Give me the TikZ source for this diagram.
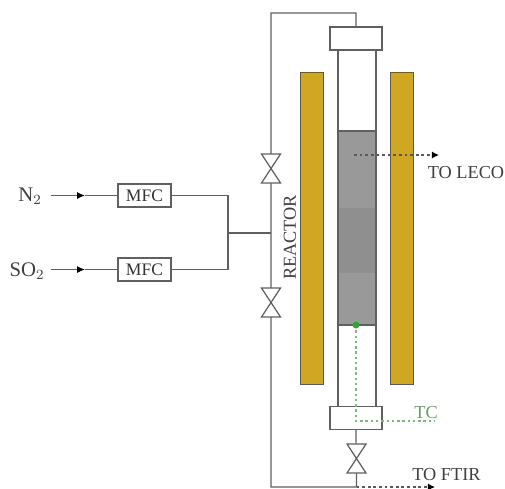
\documentclass[tikz,border=0pt]{standalone}
\usepackage{fontspec}
\setmainfont{Liberation Serif}
\usetikzlibrary{calc}
\usetikzlibrary{positioning}
\usetikzlibrary{arrows.meta}

\definecolor{heater}{HTML}{CFA722}
\definecolor{pipe}{HTML}{606060}
\definecolor{tcgreen}{HTML}{7DB87D}

\tikzset{
    pipeline/.style={draw=pipe, line width=0.7pt},
    mfcbox/.style={draw=pipe, line width=0.7pt, minimum width=53*0.2mm, minimum height=23*0.2mm, inner sep=0pt, font=\fontsize{10}{10}\selectfont, text=black!80},
    capbox/.style={draw=pipe, fill=white, line width=0.8pt, minimum width=52*0.2mm, minimum height=23*0.2mm, inner sep=0pt},
    heaterbar/.style={draw=black!65, fill=heater, line width=0.5pt},
    label/.style={font=\fontsize{10.4}{10.4}\selectfont, text=black!75},
    gaslabel/.style={font=\fontsize{11.8}{11.8}\selectfont, text=black!75},
    dotline/.style={draw=black!65, line width=0.7pt, dash pattern=on 1.6pt off 1.6pt},
    tcline/.style={draw=tcgreen, line width=0.6pt, dash pattern=on 1.4pt off 1.6pt},
    valve/.style={draw=pipe, fill=white, line width=0.7pt}
}

\newcommand{\valvev}[1]{
    \draw [valve] ($(#1)+(-9.5,-14.5)$) -- ($(#1)+(9.5,-14.5)$) -- ($(#1)+(-9.5,14.5)$) -- ($(#1)+(9.5,14.5)$) -- cycle;
}

\begin{document}
\begin{tikzpicture}[x=0.2mm, y=-0.2mm]
    \useasboundingbox (0,0) rectangle (505,488);

    % Control points
    \coordinate (topleft) at (271,13);
    \coordinate (botleft) at (271,487);
    \coordinate (botright) at (356.5,487);
    \coordinate (junction) at (271,233);
    \coordinate (split) at (228,233);
    \coordinate (valvea) at (271,168.5);
    \coordinate (valveb) at (271,302.5);
    \coordinate (valvec) at (356.5,458.5);

    % Heaters
    \draw [heaterbar] (300,72) rectangle (323,384);
    \draw [heaterbar] (390,72) rectangle (413,384);

    % Bed
    \fill [black!40] (338,131) rectangle (375.5,208);
    \fill [black!44] (338,208) rectangle (375.5,273);
    \fill [black!40] (338,273) rectangle (375.5,325);
    \draw [pipe, line width=0.9pt] (338,131) -- (375.5,131);
    \draw [pipe, line width=0.7pt] (338,325) -- (375.5,325);

    % Tube and caps
    \draw [pipeline, line width=0.8pt] (338,50) -- (338,407);
    \draw [pipeline, line width=0.8pt] (376,50) -- (376,407);
    \node [capbox] (captop) at (356,38.5) {};
    \node [capbox] (capbot) at (356,418) {};

    % Flow lines
    \node [mfcbox] (mfca) at (144.5,195.5) {MFC};
    \node [mfcbox] (mfcb) at (144.5,269.5) {MFC};
    \node [gaslabel] (ntwo) at (30,196) {N$_2$};
    \node [gaslabel] (sotwo) at (27,271) {SO$_2$};

    \coordinate (ntwoin) at (51,195.5);
    \coordinate (sotwoin) at (51,269.5);
    \coordinate (ntwomid) at (85,195.5);
    \coordinate (sotwomid) at (85,269.5);

    \draw [pipeline, -{Latex[length=4.5pt,width=4pt,black]}] (ntwoin) -- (ntwomid);
    \draw [pipeline] (ntwomid) -- (mfca);
    \draw [pipeline, -{Latex[length=4.5pt,width=4pt,black]}] (sotwoin) -- (sotwomid);
    \draw [pipeline] (sotwomid) -- (mfcb);
    \draw [pipeline] (mfca) -| (split);
    \draw [pipeline] (mfcb) -| (split);
    \draw [pipeline] (split) -- (junction);

    \draw [pipeline] (captop.north) |- (topleft) -- (botleft) -- (botright) -- (capbot.south);

    % Valves
    \valvev{valvea}
    \valvev{valveb}
    \valvev{valvec}

    % To analysers
    \coordinate (lecostart) at (354,155);
    \coordinate (lecoend) at (439,155);
    \draw [dotline, -{Latex[length=4pt,width=4pt,black]}] (lecostart) -- (lecoend);
    \node [label] (leco) at (466,173) {TO LECO};

    \coordinate (ftirend) at (435,487);
    \draw [dotline, -{Latex[length=4pt,width=4pt,black]}] (botright) -- (ftirend);
    \node [label] (ftir) at (446.5,475) {TO FTIR};

    % Thermocouple
    \coordinate (tcend) at (434,421);
    \draw [tcline] (356,325) |- (tcend);
    \fill [green!55!black!80] (356,325) circle [radius=3.5];
    \node [label, text=tcgreen!85!black] (tc) at (426,413) {TC};

    \node [label, rotate=90] (reactor) at (290,237.5) {REACTOR};

\end{tikzpicture}
\end{document}
